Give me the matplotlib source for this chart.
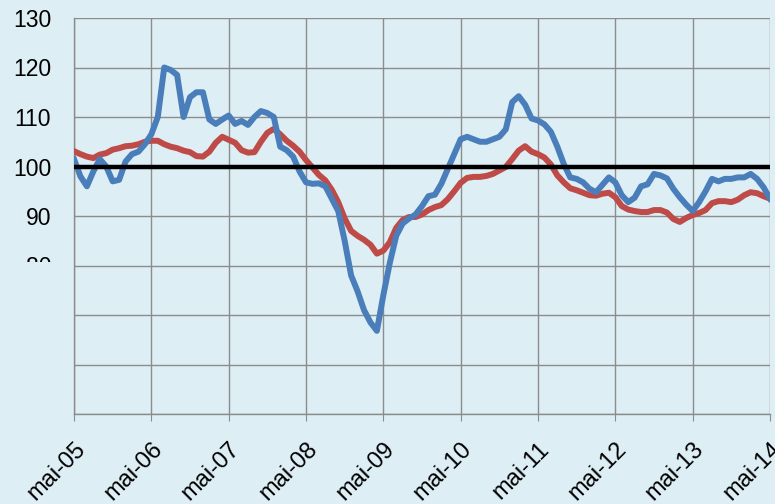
import matplotlib
matplotlib.use("Agg")
import matplotlib.pyplot as plt
import numpy as np

# monthly values, mai-05 .. mai-14
blue = [101.5, 98, 96, 99, 101.5, 100, 97, 97.3, 101, 102.5, 103, 104.5,
        106.5, 110, 120, 119.5, 118.5, 110, 114, 115, 115, 109.5, 108.6, 109.5,
        110.3, 108.6, 109.2, 108.4, 110, 111.2, 110.8, 110, 104, 103.3, 102, 99,
        96.8, 96.5, 96.6, 96, 93.5, 91, 85, 78, 74.8, 71, 68.5, 66.8,
        74, 80.5, 86, 88.5, 89.5, 90.3, 92, 94, 94.3, 96.5, 99.5, 102.5,
        105.5, 106, 105.5, 105, 105, 105.5, 106, 107.5, 113, 114.2, 112.5, 109.7,
        109.3, 108.5, 107, 104, 100.5, 97.8, 97.5, 96.8, 95.5, 94.8, 96.3, 97.8,
        96.8, 94.2, 92.8, 93.7, 96, 96.4, 98.5, 98.2, 97.6, 95.5, 93.8, 92.3,
        91, 92.8, 95, 97.5, 97, 97.5, 97.5, 97.8, 97.8, 98.5, 97.5, 95.8,
        93.5]
red = [103.1, 102.5, 102, 101.7, 102.4, 102.7, 103.4, 103.7, 104.1, 104.2, 104.5, 105,
       105.2, 105.2, 104.5, 104, 103.7, 103.2, 102.9, 102.1, 102, 103, 104.8, 106,
       105.4, 104.8, 103.3, 102.8, 102.9, 105, 106.8, 107.6, 106.5, 105.2, 104.2, 103,
       101.3, 99.8, 98.3, 97.2, 95.3, 92.8, 89.5, 87, 86, 85.2, 84.2, 82.4,
       83, 84.7, 87.6, 89.2, 89.8, 89.8, 90.3, 91.2, 91.8, 92.2, 93.4, 95,
       96.7, 97.7, 97.9, 97.9, 98.1, 98.5, 99.2, 99.9, 101.5, 103.2, 104.1, 103,
       102.5, 101.8, 100.4, 98.2, 96.8, 95.6, 95.2, 94.7, 94.2, 94.1, 94.5, 94.7,
       93.8, 92, 91.3, 91, 90.8, 90.8, 91.2, 91.2, 90.7, 89.4, 88.8, 89.6,
       90.2, 90.6, 91.2, 92.6, 93, 93, 92.8, 93.3, 94.2, 94.8, 94.6, 94,
       93.5]
tick_labels = ["mai-05", "mai-06", "mai-07", "mai-08", "mai-09",
               "mai-10", "mai-11", "mai-12", "mai-13", "mai-14"]
y_ticks = [50, 60, 70, 80, 90, 100, 110, 120, 130]
y_labels = ["", "", "", "80", "90", "100", "110", "120", "130"]

bg = "#DDEEF4"
plt.rcParams["font.family"] = ["Liberation Sans", "DejaVu Sans"]

fig = plt.figure(figsize=(7.75, 5.04), dpi=100, facecolor=bg)
ax = fig.add_axes([74 / 775, 90 / 504, 696 / 775, 396 / 504])
ax.set_facecolor(bg)

months = np.arange(len(blue))
ax.plot(months, blue, color="#4A7EBB", linewidth=4.3, zorder=4)
ax.plot(months, red, color="#BE4B48", linewidth=4.3, zorder=3)
ax.axhline(100, color="black", linewidth=3.2, zorder=5)

ax.set_xlim(0, 108)
ax.set_ylim(50, 130)
ax.set_xticks(range(0, 109, 12))
ax.set_xticklabels(tick_labels, rotation=45, ha="right", va="top",
                   rotation_mode="anchor", fontsize=17)
ax.set_yticks(y_ticks)
ax.set_yticklabels(y_labels, fontsize=16.5)

ax.grid(True, color="#8C8C8C", linewidth=1.0, zorder=1)
ax.set_axisbelow(True)
ax.tick_params(axis="y", length=0, pad=16.5)
ax.tick_params(axis="x", length=5, color="#8C8C8C", pad=12.5)
for s in ["top", "right"]:
    ax.spines[s].set_visible(False)
for s in ["left", "bottom"]:
    ax.spines[s].set_color("#8C8C8C")
    ax.spines[s].set_linewidth(1.0)

# cover the lower part of the axis labels, as in the original
fig.patches.append(plt.Rectangle((0, 95 / 504), 72 / 775, (504 - 262 - 95) / 504,
                                 transform=fig.transFigure, facecolor=bg,
                                 edgecolor="none", zorder=10))

fig.savefig("out.png", dpi=100, facecolor=bg)
